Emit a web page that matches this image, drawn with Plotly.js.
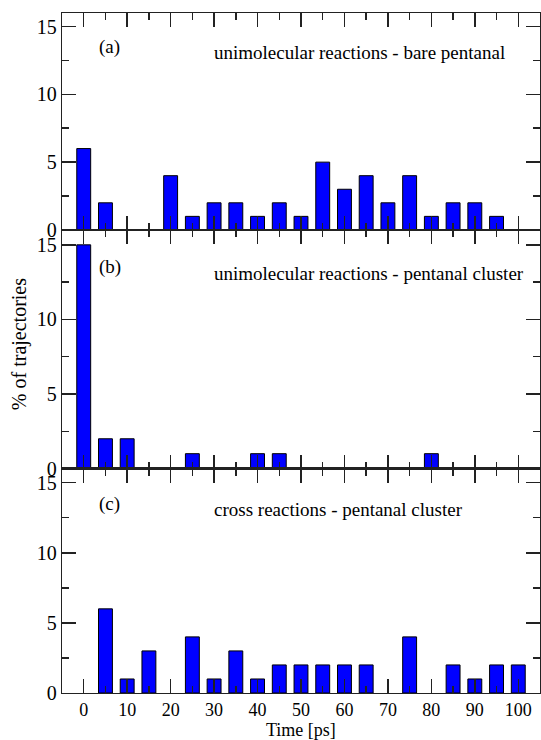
<!DOCTYPE html>
<html>
<head>
<meta charset="utf-8">
<script src="https://cdn.plot.ly/plotly-3.0.1.min.js"></script>
<style>html,body{margin:0;padding:0;background:#fff;}#chart{width:541px;height:740px;}</style>
</head>
<body>
<div id="chart"></div>
<script>
// Time bins [ps]
var timeBins = [0,5,10,15,20,25,30,35,40,45,50,55,60,65,70,75,80,85,90,95,100];
// (a) unimolecular reactions - bare pentanal
var bareUni = [6,2,0,0,4,1,2,2,1,2,1,5,3,4,2,4,1,2,2,1,0];
// (b) unimolecular reactions - pentanal cluster
var clusterUni = [15,2,2,0,0,1,0,0,1,1,0,0,0,0,0,0,1,0,0,0,0];
// (c) cross reactions - pentanal cluster
var clusterCross = [0,6,1,3,0,4,1,3,1,2,2,2,2,2,0,4,0,2,1,2,2];

var xTicks = [0,10,20,30,40,50,60,70,80,90,100];
var yTicks = [0,5,10,15];
var panelLabels = ['(a)','(b)','(c)'];
var panelTitles = ['unimolecular reactions - bare pentanal','unimolecular reactions - pentanal cluster','cross reactions - pentanal cluster'];

var serif = '"Liberation Serif", "Times New Roman", Times, serif';
var axCol = '#222';

function bar(y, xa, ya){
  var xs=[], ys=[];
  for (var i=0;i<timeBins.length;i++){ if(y[i]>0){xs.push(timeBins[i]); ys.push(y[i]);} }
  return {type:'bar', x:xs, y:ys, xaxis:xa, yaxis:ya, width:3.2,
    marker:{color:'#0000ff', line:{color:'#000', width:1}}, hoverinfo:'x+y', showlegend:false};
}

function xax(anchor, labels){
  return {range:[-5,105], anchor:anchor, tickvals:xTicks, ticktext:xTicks.map(String), showticklabels:labels,
    ticks:'inside', ticklen:14, tickwidth:1.5, tickcolor:axCol,
    minor:{dtick:5, tick0:0, ticks:'inside', ticklen:7, tickwidth:1.5, tickcolor:axCol},
    showline:true, linecolor:axCol, linewidth:1.3, mirror:'allticks', showgrid:false, zeroline:false,
    tickfont:{family:serif, size:18, color:'#000'}};
}
function yax(domain, anchor){
  return {range:[0,16], domain:domain, anchor:anchor, tickvals:yTicks, ticktext:yTicks.map(String),
    ticks:'inside', ticklen:14, tickwidth:1.5, tickcolor:axCol,
    minor:{dtick:2.5, tick0:0, ticks:'inside', ticklen:7, tickwidth:1.5, tickcolor:axCol},
    showline:true, linecolor:axCol, linewidth:1.3, mirror:'allticks', showgrid:false, zeroline:false,
    tickfont:{family:serif, size:20, color:'#000'}};
}

var data = [bar(bareUni,'x','y'), bar(clusterUni,'x2','y2'), bar(clusterCross,'x3','y3')];

var anns = [];
var axNames = ['',2,3];
for (var k=0;k<3;k++){
  anns.push({xref:'x'+axNames[k], yref:'y'+axNames[k], x:3.1, y:13.5, xanchor:'left', yanchor:'middle',
    text:panelLabels[k], showarrow:false, font:{family:serif, size:19, color:'#000'}});
  anns.push({xref:'x'+axNames[k], yref:'y'+axNames[k], x:29.6, y:13.1, xanchor:'left', yanchor:'middle',
    text:panelTitles[k], showarrow:false, font:{family:serif, size:19, color:'#000'}});
}
anns.push({xref:'paper', yref:'paper', x:-0.09, y:0.513, xanchor:'center', yanchor:'middle', textangle:-90,
  text:'% of trajectories', showarrow:false, font:{family:serif, size:20, color:'#000'}});
anns.push({xref:'x3', yref:'paper', x:50, y:-0.054, xanchor:'center', yanchor:'middle', borderpad:0,
  text:'Time [ps]', showarrow:false, font:{family:serif, size:18, color:'#000'}});

var layout = {
  width:541, height:740,
  margin:{l:62, r:1, t:13, b:47},
  paper_bgcolor:'#fff', plot_bgcolor:'#fff',
  bargap:0,
  xaxis: xax('y', false),
  xaxis2: xax('y2', false),
  xaxis3: xax('y3', true),
  yaxis: yax([0.681,1],'x'),
  yaxis2: yax([0.330,0.681],'x2'),
  yaxis3: yax([0,0.330],'x3'),
  annotations: anns,
  showlegend:false
};

Plotly.newPlot('chart', data, layout, {displayModeBar:false, staticPlot:true});
</script>
</body>
</html>
